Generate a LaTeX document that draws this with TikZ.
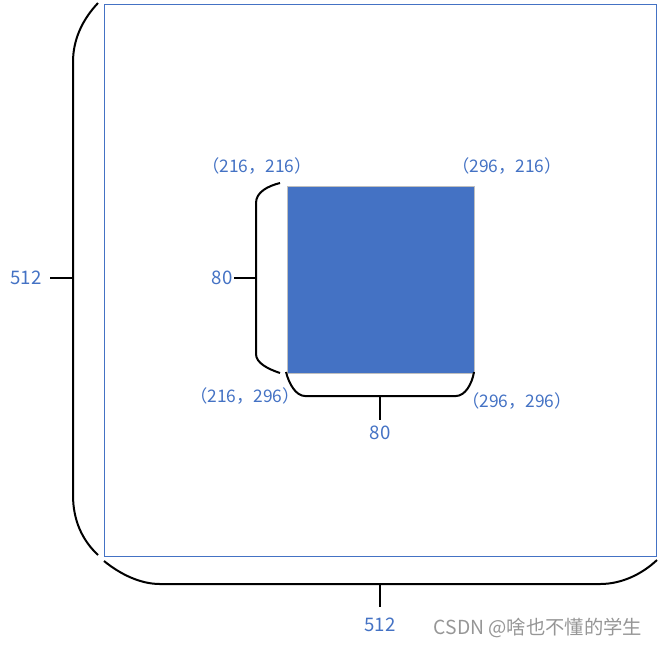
\documentclass[tikz,border=0pt]{standalone}
\usepackage{fontspec}
\setmainfont{Noto Sans CJK SC}
\usepackage{tikz}
\definecolor{pptblue}{RGB}{68,114,196}
\definecolor{markgray}{RGB}{150,150,150}

\begin{document}
\begin{tikzpicture}[x=0.75pt, y=-0.75pt, every node/.style={font=\fontsize{14}{16}\selectfont, text=pptblue, inner sep=1pt}, coord/.style={font=\fontsize{13}{15}\selectfont}, brace/.style={line width=1.5pt, black}]
	\useasboundingbox (0,0) rectangle (659,647);
	\draw[pptblue, line width=0.6pt] (104,4) rectangle (656,556);
	\draw[fill=pptblue, draw=black!25, line width=0.5pt] (287,186) rectangle (474,373);
	\node (bigL) at (26,278) {512};
	\node (bigB) at (380,625) {512};
	\node (smallL) at (222,278) {80};
	\node (smallB) at (380,433) {80};
	\node[coord] (tl) at (257,166) {（216，216）};
	\node[coord] (tr) at (507,166) {（296，216）};
	\node[coord] (bl) at (245,396) {（216，296）};
	\node[coord] (br) at (517,401) {（296，296）};
	\node[text=markgray, font=\fontsize{14.5}{16}\selectfont] (mark) at (538,628) {CSDN @啥也不懂的学生};
	\coordinate (bigLmid) at (73,278);
	\coordinate (bigBmid) at (380,584);
	\coordinate (smallLmid) at (256,278);
	\coordinate (smallBmid) at (380,396);
	\draw[brace] (98,3) .. controls (82,20) and (73,40) .. (73,62) -- (73,495) .. controls (73,520) and (82,540) .. (98,555);
	\draw[brace] (104,561) .. controls (120,574) and (140,584) .. (160,584) -- (600,584) .. controls (622,584) and (642,574) .. (657,560);
	\draw[brace] (280,183) .. controls (268,186) and (256,192) .. (256,203) -- (256,354) .. controls (256,363) and (268,369) .. (280,373);
	\draw[brace] (286,372) .. controls (289,384) and (296,396) .. (305,396) -- (456,396) .. controls (465,396) and (472,384) .. (474,372);
	\draw[brace] (bigLmid) -- (50,278);
	\draw[brace] (bigBmid) -- (380,607);
	\draw[brace] (smallLmid) -- (smallL.east);
	\draw[brace] (smallBmid) -- (380,420);
\end{tikzpicture}
\end{document}
